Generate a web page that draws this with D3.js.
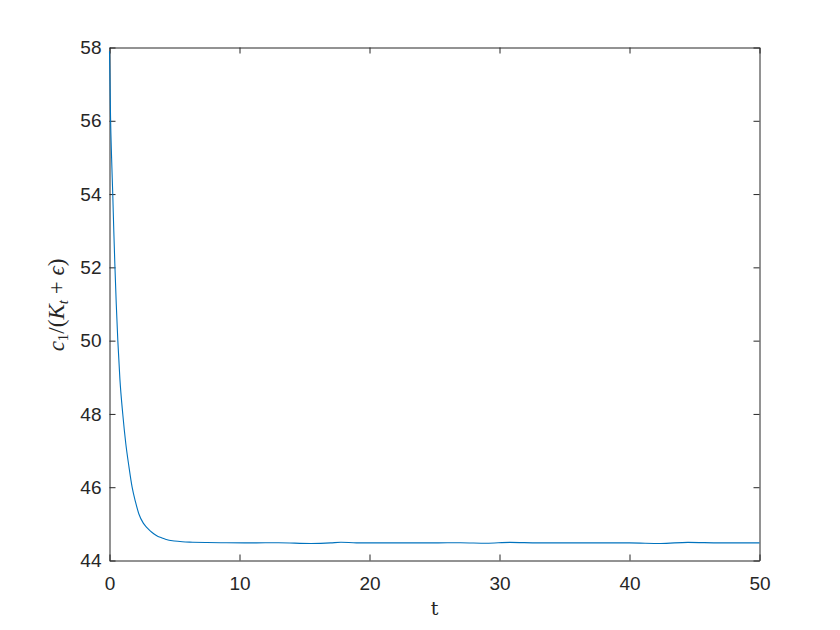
<!DOCTYPE html>
<html>
<head>
<meta charset="utf-8">
<script src="https://cdn.jsdelivr.net/npm/d3@7"></script>
<style>
  html, body { margin: 0; padding: 0; background: #fff; }
  svg { display: block; }
</style>
</head>
<body>
<svg id="chart" width="840" height="630"></svg>
<script>
// ---- data ----
const tValues = [0, 0.04, 0.08, 0.16, 0.25, 0.33, 0.41, 0.52, 0.64, 0.8, 1.02, 1.25, 1.5, 1.74, 2.0, 2.26, 2.6, 2.9, 3.15, 3.4, 3.7, 4.0, 4.3, 5.0, 5.6, 6.4, 7.5, 9, 11, 13, 15.5, 17, 17.8, 19, 21, 23, 25, 27, 29, 30.8, 33, 35, 38, 40, 42.4, 44.5, 47, 50];
const ratioValues = [57.9, 57.0, 56.1, 55.0, 54.0, 53.0, 52.1, 51.0, 50.0, 48.95, 48.0, 47.2, 46.55, 46.0, 45.6, 45.27, 45.02, 44.89, 44.80, 44.73, 44.66, 44.62, 44.58, 44.53, 44.51, 44.50, 44.49, 44.485, 44.48, 44.485, 44.465, 44.48, 44.50, 44.48, 44.48, 44.48, 44.48, 44.485, 44.47, 44.495, 44.48, 44.48, 44.48, 44.48, 44.465, 44.495, 44.48, 44.48];
const xTicks = [0, 10, 20, 30, 40, 50];
const yTicks = [44, 46, 48, 50, 52, 54, 56, 58];

const svg = d3.select("#chart");
const pLeft = 109.5, pRight = 759.5, pTop = 47.5, pBottom = 560.5;
const axisColor = "#262626";
const tickFont = "Arial, 'Liberation Sans', Helvetica, sans-serif";

const x = d3.scaleLinear().domain([0, 50]).range([pLeft, pRight]);
const y = d3.scaleLinear().domain([44, 58]).range([pBottom, pTop]);

function styleAxis(g, showLabels) {
  g.selectAll("path.domain").attr("stroke", axisColor).attr("stroke-width", 1);
  g.selectAll(".tick line").attr("stroke", axisColor).attr("stroke-width", 1);
  g.selectAll(".tick text")
    .attr("fill", axisColor)
    .style("font-family", tickFont)
    .style("font-size", "19px");
  if (!showLabels) g.selectAll(".tick text").remove();
}

// bottom axis
svg.append("g").attr("transform", `translate(0,${pBottom})`)
  .call(d3.axisBottom(x).tickValues(xTicks).tickSizeInner(-6).tickSizeOuter(0).tickPadding(16))
  .call(g => styleAxis(g, true));
// top axis (mirrored ticks)
svg.append("g").attr("transform", `translate(0,${pTop})`)
  .call(d3.axisTop(x).tickValues(xTicks).tickSizeInner(-6).tickSizeOuter(0))
  .call(g => styleAxis(g, false));
// left axis
svg.append("g").attr("transform", `translate(${pLeft},0)`)
  .call(d3.axisLeft(y).tickValues(yTicks).tickSizeInner(-6).tickSizeOuter(0).tickPadding(8))
  .call(g => styleAxis(g, true));
// right axis (mirrored ticks)
svg.append("g").attr("transform", `translate(${pRight},0)`)
  .call(d3.axisRight(y).tickValues(yTicks).tickSizeInner(-6).tickSizeOuter(0))
  .call(g => styleAxis(g, false));

// line
const data = tValues.map((t, i) => ({ t, v: ratioValues[i] }));
const line = d3.line().x(d => x(d.t)).y(d => y(d.v)).curve(d3.curveMonotoneX);
svg.append("path")
  .datum(data)
  .attr("d", line)
  .attr("fill", "none")
  .attr("stroke", "#0072BD")
  .attr("stroke-width", 1.1);

// x label
svg.append("text")
  .attr("x", (pLeft + pRight) / 2)
  .attr("y", 615)
  .attr("text-anchor", "middle")
  .attr("fill", axisColor)
  .style("font-family", "'DejaVu Serif', 'Liberation Serif', serif")
  .style("font-size", "19px")
  .text("t");

// y label: c_1/(K_t + ϵ)
const yl = svg.append("text")
  .attr("transform", "translate(64,305) rotate(-90)")
  .attr("text-anchor", "middle")
  .attr("fill", axisColor)
  .style("font-family", "'Liberation Serif', 'DejaVu Serif', serif")
  .style("font-size", "23px");
yl.append("tspan").style("font-style", "italic").text("c");
yl.append("tspan").attr("dy", 4).style("font-size", "15px").text("1");
yl.append("tspan").attr("dy", -4).text("/(");
yl.append("tspan").style("font-style", "italic").text("K");
yl.append("tspan").attr("dy", 4).style("font-size", "15px").style("font-style", "italic").text("t");
yl.append("tspan").attr("dy", -4).text(" + ");
yl.append("tspan").style("font-style", "italic").text("\u03F5");
yl.append("tspan").text(")");
</script>
</body>
</html>
